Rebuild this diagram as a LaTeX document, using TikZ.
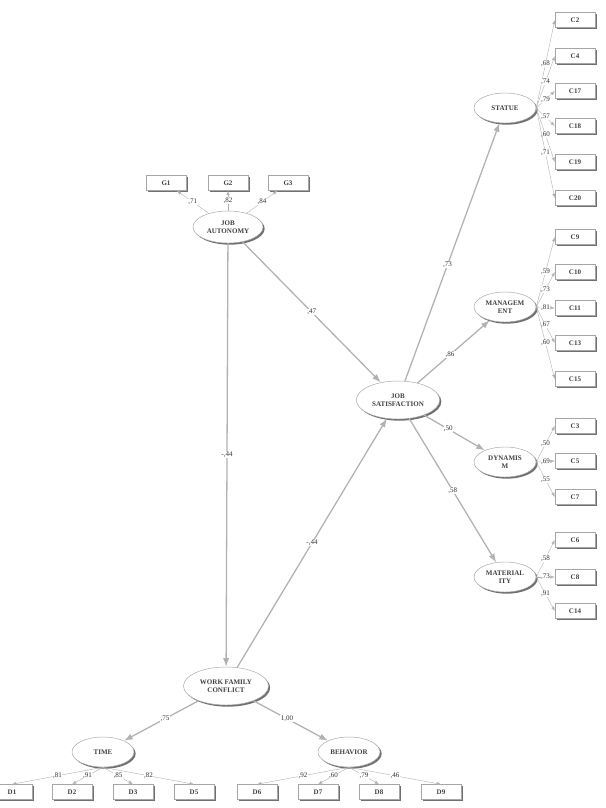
\documentclass[tikz,border=0pt]{standalone}
\usepackage{fontspec}
\setmainfont{Liberation Serif}
\usetikzlibrary{arrows.meta,shapes.geometric,shadows}

\begin{document}
\begin{tikzpicture}[x=0.03cm,y=-0.03cm,
font=\fontsize{6}{6.6}\selectfont\bfseries,
shade/.style={drop shadow={shadow xshift=.5mm,shadow yshift=-.5mm,fill=black!75,opacity=.75}},
lat/.style={draw=gray!70,ellipse,fill=white,shade,align=center,inner sep=0pt,minimum width=1.86cm,minimum height=.9cm,text=black!75},
ind/.style={draw=gray!70,fill=white,shade,minimum width=1.2cm,minimum height=.45cm,inner sep=0pt,text=black!75},
path/.style={-{Latex[length=2.6mm,width=1.9mm]},line width=1.1pt,draw=gray!60},
load/.style={-{Latex[length=1.3mm,width=1mm]},line width=.35pt,draw=gray!60},
lbl/.style={fill=white,inner sep=.4pt,font=\fontsize{6}{6.5}\selectfont,text=black!80}]
\useasboundingbox (0,0) rectangle (605,808);
\node[lat,minimum width=2.1cm,minimum height=.96cm] (ja) at (228,227) {JOB\\AUTONOMY};
\node[lat,minimum width=2.5cm,minimum height=1.14cm] (js) at (398,400) {JOB\\SATISFACTION};
\node[lat,minimum width=2.55cm,minimum height=1.14cm] (wfc) at (226,686) {WORK FAMILY\\CONFLICT};
\node[lat] (statue) at (505,108) {STATUE};
\node[lat] (manag) at (505,307) {MANAGEM\\ENT};
\node[lat] (dynam) at (505,462) {DYNAMIS\\M};
\node[lat] (mater) at (505,577) {MATERIAL\\ITY};
\node[lat] (time) at (103,752) {TIME};
\node[lat] (behav) at (349,752) {BEHAVIOR};
\node[ind] (g1) at (166,183) {G1};
\node[ind] (g2) at (228,183) {G2};
\node[ind] (g3) at (288,183) {G3};
\node[ind] (c2) at (575,20) {C2};
\node[ind] (c4) at (575,56) {C4};
\node[ind] (c17) at (575,91) {C17};
\node[ind] (c18) at (575,126) {C18};
\node[ind] (c19) at (575,162) {C19};
\node[ind] (c20) at (575,198) {C20};
\node[ind] (c9) at (575,237) {C9};
\node[ind] (c10) at (575,272) {C10};
\node[ind] (c11) at (575,308) {C11};
\node[ind] (c13) at (575,343) {C13};
\node[ind] (c15) at (575,379) {C15};
\node[ind] (c3) at (575,426) {C3};
\node[ind] (c5) at (575,461) {C5};
\node[ind] (c7) at (575,497) {C7};
\node[ind] (c6) at (575,540) {C6};
\node[ind] (c8) at (575,577) {C8};
\node[ind] (c14) at (575,611) {C14};
\node[ind] (d1) at (12,792) {D1};
\node[ind] (d2) at (72,792) {D2};
\node[ind] (d3) at (133,792) {D3};
\node[ind] (d5) at (194,792) {D5};
\node[ind] (d6) at (257,792) {D6};
\node[ind] (d7) at (318,792) {D7};
\node[ind] (d8) at (379,792) {D8};
\node[ind] (d9) at (441,792) {D9};
\draw[path] (ja)--(js) node[lbl,pos=.5] {,47};
\draw[path] (ja)--(wfc) node[lbl,pos=.5] {-,44};
\draw[path] (wfc)--(js) node[lbl,pos=.5] {-,44};
\draw[path] (js)--(statue) node[lbl,pos=.45] {,73};
\draw[path] (js)--(manag) node[lbl,pos=.45] {,86};
\draw[path] (js)--(dynam) node[lbl,pos=.4] {,50};
\draw[path] (js)--(mater) node[lbl,pos=.5] {,58};
\draw[path] (wfc)--(time) node[lbl,pos=.45] {,75};
\draw[path] (wfc)--(behav) node[lbl,pos=.45] {1,00};
\draw[load] (ja)--(g1) node[lbl,pos=.5] {,71};\draw[load] (ja)--(g2) node[lbl,pos=.5] {,82};\draw[load] (ja)--(g3) node[lbl,pos=.5] {,84};
\draw[load] (statue.east)--(c2.west) node[lbl,pos=.5] {,68};\draw[load] (statue.east)--(c4.west) node[lbl,pos=.5] {,74};
\draw[load] (statue.east)--(c17.west) node[lbl,pos=.5] {,79};\draw[load] (statue.east)--(c18.west) node[lbl,pos=.5] {,57};
\draw[load] (statue.east)--(c19.west) node[lbl,pos=.5] {,60};\draw[load] (statue.east)--(c20.west) node[lbl,pos=.5] {,71};
\draw[load] (manag.east)--(c9.west) node[lbl,pos=.5] {,59};\draw[load] (manag.east)--(c10.west) node[lbl,pos=.5] {,73};
\draw[load] (manag.east)--(c11.west) node[lbl,pos=.5] {,81};\draw[load] (manag.east)--(c13.west) node[lbl,pos=.5] {,67};
\draw[load] (manag.east)--(c15.west) node[lbl,pos=.5] {,60};
\draw[load] (dynam.east)--(c3.west) node[lbl,pos=.5] {,50};\draw[load] (dynam.east)--(c5.west) node[lbl,pos=.5] {,69};
\draw[load] (dynam.east)--(c7.west) node[lbl,pos=.5] {,55};
\draw[load] (mater.east)--(c6.west) node[lbl,pos=.5] {,58};\draw[load] (mater.east)--(c8.west) node[lbl,pos=.5] {,73};
\draw[load] (mater.east)--(c14.west) node[lbl,pos=.5] {,91};
\draw[load] (time.south)--(d1.north) node[lbl,pos=.5] {,81};\draw[load] (time.south)--(d2.north) node[lbl,pos=.5] {,91};
\draw[load] (time.south)--(d3.north) node[lbl,pos=.5] {,85};\draw[load] (time.south)--(d5.north) node[lbl,pos=.5] {,82};
\draw[load] (behav.south)--(d6.north) node[lbl,pos=.5] {,92};\draw[load] (behav.south)--(d7.north) node[lbl,pos=.5] {,60};
\draw[load] (behav.south)--(d8.north) node[lbl,pos=.5] {,79};\draw[load] (behav.south)--(d9.north) node[lbl,pos=.5] {,46};
\end{tikzpicture}
\end{document}
